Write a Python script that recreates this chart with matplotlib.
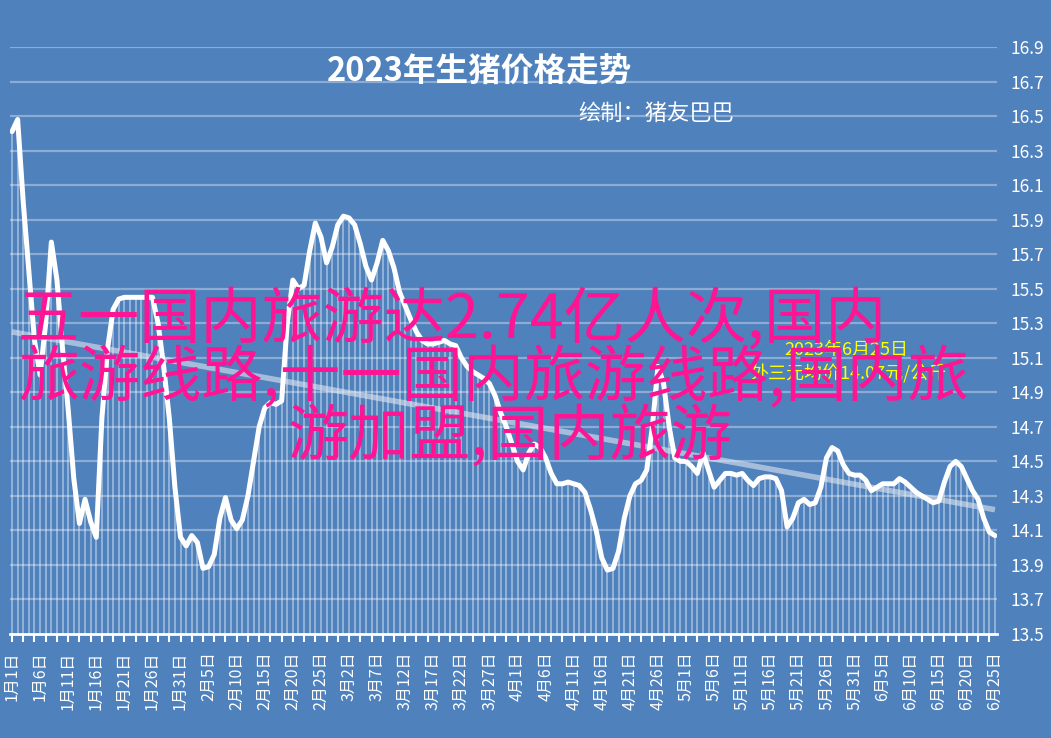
import matplotlib
matplotlib.use("Agg")
import matplotlib.pyplot as plt
import numpy as np
import pandas as pd

plt.rcParams['font.family'] = ['Noto Sans CJK SC', 'DejaVu Sans']

# 2023 daily pig price (元/公斤), 1月1日 .. 6月25日
start_date = '2023-01-01'
prices = [
    16.41, 16.48, 16.00, 15.60, 15.20, 15.00, 15.30, 15.77, 15.55, 15.15,
    14.80, 14.40, 14.14, 14.28, 14.15, 14.06, 14.75, 15.15, 15.38, 15.44,
    15.45, 15.45, 15.45, 15.45, 15.45, 15.45, 15.30, 15.05, 14.75, 14.35,
    14.06, 14.01, 14.07, 14.03, 13.88, 13.89, 13.96, 14.17, 14.29, 14.16,
    14.11, 14.16, 14.30, 14.50, 14.70, 14.81, 14.84, 14.83, 14.85, 15.30,
    15.55, 15.50, 15.52, 15.72, 15.88, 15.80, 15.65, 15.74, 15.87, 15.92,
    15.91, 15.87, 15.76, 15.63, 15.55, 15.65, 15.78, 15.72, 15.62, 15.48,
    15.40, 15.32, 15.25, 15.20, 15.18, 15.18, 15.19, 15.20, 15.18, 15.17,
    15.10, 15.05, 15.02, 15.00, 14.98, 14.95, 14.88, 14.78, 14.70, 14.60,
    14.50, 14.45, 14.55, 14.60, 14.58, 14.52, 14.43, 14.37, 14.37, 14.38,
    14.37, 14.36, 14.32, 14.22, 14.10, 13.94, 13.87, 13.88, 13.98, 14.17,
    14.30, 14.37, 14.39, 14.45, 14.70, 15.05, 14.95, 14.70, 14.52, 14.50,
    14.50, 14.47, 14.43, 14.55, 14.45, 14.35, 14.39, 14.43, 14.43, 14.42,
    14.43, 14.39, 14.36, 14.40, 14.41, 14.41, 14.40, 14.33, 14.12, 14.17,
    14.26, 14.28, 14.25, 14.26, 14.35, 14.52, 14.58, 14.56, 14.48, 14.43,
    14.42, 14.42, 14.39, 14.33, 14.35, 14.37, 14.37, 14.37, 14.40, 14.38,
    14.35, 14.32, 14.30, 14.28, 14.26, 14.27, 14.38, 14.47, 14.50, 14.47,
    14.40, 14.33, 14.28, 14.17, 14.09, 14.07,
]
# linear trend line, first and last day
trend_vals = [15.25, 14.22]

title = '2023年生猪价格走势'
subtitle = '绘制：猪友巴巴'
note_lines = ['2023年6月25日', '外三元均价14.07元/公斤']
overlay_lines = ['五一国内旅游达2.74亿人次,国内',
                 '旅游线路,十一国内旅游线路,国内旅',
                 '游加盟,国内旅游']

dates = pd.date_range(start_date, periods=len(prices))
date_labels = [f'{d.month}月{d.day}日' for d in dates]
days = np.arange(len(prices))
prices = np.array(prices)

bg = '#4f81bd'
W, H = 1051, 738
fig = plt.figure(figsize=(W / 100, H / 100), dpi=100, facecolor=bg)
ax = fig.add_axes([10 / W, (H - 634) / H, 987 / W, 587 / H], facecolor=bg)

ymin, ymax = 13.5, 16.9
ax.set_ylim(ymin, ymax)
ax.set_xlim(-0.36, days[-1] + 0.36)

# grid lines
for v in np.arange(13.7, 16.95, 0.2):
    ax.axhline(v, color='white', alpha=0.35, lw=1.6, zorder=1)

# drop lines under the curve
ax.vlines(days, ymin, prices, color='white', alpha=0.42, lw=1.3, zorder=2)

# trend line
ax.plot([days[0], days[-1]], trend_vals, color='#dfe6f0', alpha=0.6, lw=4,
        solid_capstyle='butt', zorder=3)

# price line
ax.plot(days, prices, color='white', lw=3.6, solid_joinstyle='round',
        solid_capstyle='round', zorder=4)

for s in ['top', 'left', 'right']:
    ax.spines[s].set_visible(False)
ax.spines['bottom'].set_color('white')
ax.spines['bottom'].set_linewidth(2)

ax.set_xticks(days[::2])
ax.set_xticklabels([])
ax.tick_params(axis='x', direction='out', length=6, width=1.5, color='white')
for d in days[::5]:
    ax.text(d, -0.03, date_labels[d], transform=ax.get_xaxis_transform(),
            rotation=90, ha='center', va='top', color='white', fontsize=11.5)

ax.yaxis.tick_right()
ax.set_yticks(np.round(np.arange(13.5, 16.95, 0.2), 1))
ax.set_yticklabels([f'{v:.1f}' for v in np.arange(13.5, 16.95, 0.2)])
ax.tick_params(axis='y', length=0, pad=10, labelcolor='white', labelsize=12.5)

# titles
fig.text(480 / W, 1 - 72 / H, title, color='white', fontsize=23.5,
         fontweight='bold', ha='center', va='center')
fig.text(656 / W, 1 - 113 / H, subtitle, color='white', fontsize=16,
         ha='center', va='center')

# yellow note
fig.text(846 / W, 1 - 350 / H, note_lines[0], color='#ffff00', fontsize=13,
         ha='center', va='center', zorder=5)
fig.text(848 / W, 1 - 374 / H, note_lines[1], color='#ffff00', fontsize=13,
         ha='center', va='center', zorder=5)

# overlay text
pink = '#ff1493'
for (x0, yc), line in zip([(18, 320), (18, 378), (288, 437)], overlay_lines):
    fig.text(x0 / W, 1 - yc / H, line, color=pink, fontsize=44,
             ha='left', va='center', zorder=10)

fig.savefig('out.png', dpi=100, facecolor=bg)
